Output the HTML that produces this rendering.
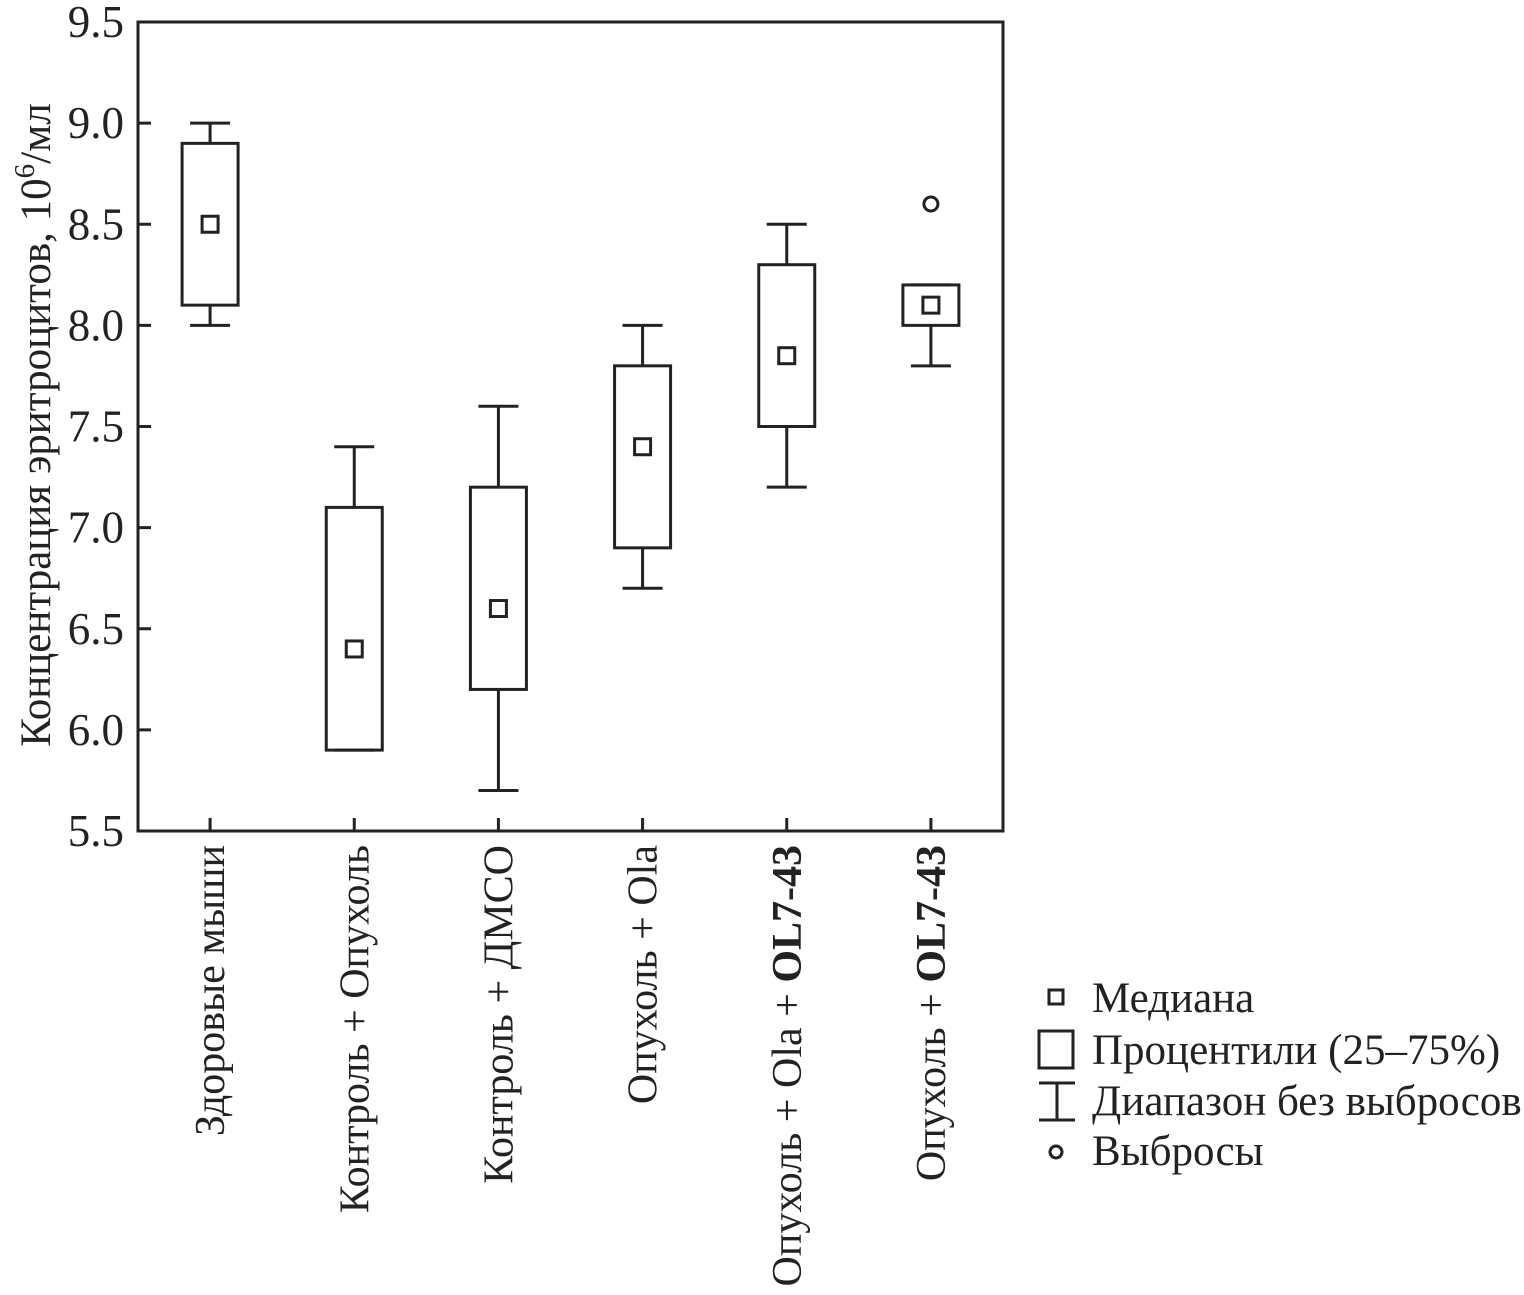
<!DOCTYPE html>
<html><head><meta charset="utf-8"><style>
body{margin:0;background:#fff}
svg{display:block;font-family:"Liberation Serif","Noto Serif CJK SC",serif}
</style></head><body>
<svg id="chart" width="1524" height="1295" viewBox="0 0 1524 1295" xmlns="http://www.w3.org/2000/svg">
<rect x="138" y="22" width="865" height="809" fill="none" stroke="#222" stroke-width="3"/>
<g id="yticks"></g>
<g id="xticks"></g>
<g id="boxes"></g>
<text transform="translate(50,425) rotate(-90)" text-anchor="middle" font-size="43" fill="#222">Концентрация эритроцитов, 10<tspan dy="-16" font-size="29">6</tspan><tspan dy="16">/мл</tspan></text>
<g fill="none" stroke="#222" stroke-width="3">
  <rect x="1049" y="990" width="14" height="14"/>
  <rect x="1039" y="1031" width="34" height="37"/>
  <path d="M1039 1083H1075M1057 1083V1120M1039 1120H1075"/>
  <circle cx="1056" cy="1152" r="6"/>
</g>
<g font-size="43" fill="#222">
  <text x="1092" y="1012">Медиана</text>
  <text x="1092" y="1064">Процентили (25–75%)</text>
  <text x="1092" y="1115">Диапазон без выбросов</text>
  <text x="1092" y="1165">Выбросы</text>
</g>
</svg>
<script>
const categories=[["Здоровые мыши",""],["Контроль + Опухоль",""],["Контроль + ДМСО",""],["Опухоль + Ola",""],["Опухоль + Ola + ","OL7-43"],["Опухоль + ","OL7-43"]];
const whiskerLow=[8.0,5.9,5.7,6.7,7.2,7.8];
const q1=[8.1,5.9,6.2,6.9,7.5,8.0];
const median=[8.5,6.4,6.6,7.4,7.85,8.1];
const q3=[8.9,7.1,7.2,7.8,8.3,8.2];
const whiskerHigh=[9.0,7.4,7.6,8.0,8.5,8.2];
const outliers=[[],[],[],[],[],[8.6]];
const yTicks=["5.5","6.0","6.5","7.0","7.5","8.0","8.5","9.0","9.5"];

const NS="http://www.w3.org/2000/svg";
const L=138,R=1003,T=22,B=831,ymin=5.5,ymax=9.5;
const y=v=>B-(v-ymin)/(ymax-ymin)*(B-T);
const band=(R-L)/categories.length;
const x=i=>L+band*(i+0.5);
function mk(tag,attrs,parent){const e=document.createElementNS(NS,tag);for(const k in attrs)e.setAttribute(k,attrs[k]);parent.appendChild(e);return e;}
const yg=document.getElementById('yticks'),xg=document.getElementById('xticks'),bg=document.getElementById('boxes');
yTicks.forEach(t=>{const v=parseFloat(t);
  const l=mk('line',{x1:L,x2:L+13,y1:y(v),y2:y(v),stroke:'#222','stroke-width':3},yg);
  
  
  const tx=mk('text',{x:124,y:y(v)+15,'text-anchor':'end','font-size':45,fill:'#222'},yg);
  tx.textContent=t;
  
  
});
categories.forEach((c,i)=>{const cx=x(i);
  const l=mk('line',{x1:cx,x2:cx,y1:B,y2:B-13,stroke:'#222','stroke-width':3},xg);
  
  
  const tx=mk('text',{transform:`translate(${cx+14},845) rotate(-90)`,'text-anchor':'end','font-size':42,fill:'#222'},xg);
  
  
  const s1=mk('tspan',{},tx);s1.textContent=c[0];
  if(c[1]){const s2=mk('tspan',{'font-weight':'bold'},tx);s2.textContent=c[1];}
  const g=mk('g',{fill:'none',stroke:'#222','stroke-width':3},bg);
  
  
  const hw=28,cw=20;
  const w=mk('path',{d:`M${cx} ${y(whiskerHigh[i])}V${y(q3[i])}M${cx} ${y(q1[i])}V${y(whiskerLow[i])}M${cx-cw} ${y(whiskerHigh[i])}H${cx+cw}M${cx-cw} ${y(whiskerLow[i])}H${cx+cw}`},g);
  
  
  const r=mk('rect',{x:cx-hw,y:y(q3[i]),width:2*hw,height:y(q1[i])-y(q3[i])},g);
  
  
  const m=mk('rect',{x:cx-8,y:y(median[i])-8,width:16,height:16},g);
  
  
  outliers[i].forEach(o=>{const ci=mk('circle',{cx:cx,cy:y(o),r:7},g);
    
    });
});
</script>
</body></html>
